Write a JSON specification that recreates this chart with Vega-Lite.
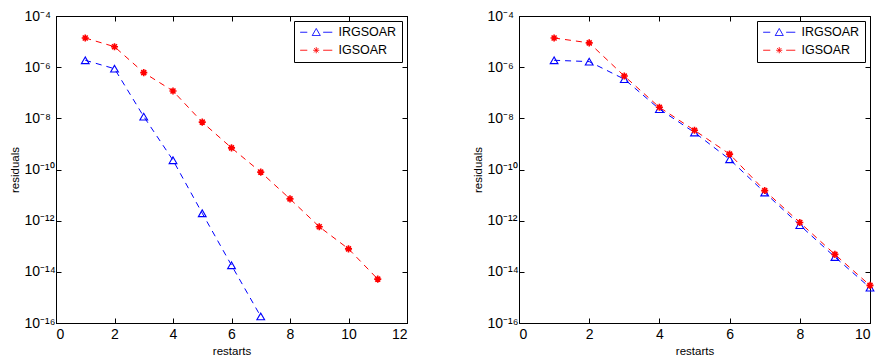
{
  "$schema": "https://vega.github.io/schema/vega-lite/v6.json",
  "padding": {"left": 8, "top": 8, "right": 0, "bottom": 0},
  "background": "white",
  "config": {
    "font": "Liberation Sans",
    "view": {"stroke": "black", "strokeWidth": 1},
    "axis": {"grid": false, "domainColor": "black", "tickColor": "black", "labelColor": "black", "titleColor": "black", "labelFont": "Liberation Sans", "titleFont": "Liberation Sans", "labelFontSize": 14, "titleFontSize": 11.5, "titleFontWeight": "normal", "tickSize": -5, "labelPadding": 9},
    "axisLeft": {"labelAlign": "left", "labelPadding": 37, "titlePadding": 4}
  },
  "datasets": {
    "left": [
      {"restarts": 1, "residual": 1.86e-6, "method": "IRGSOAR"},
      {"restarts": 2, "residual": 8.7e-7, "method": "IRGSOAR"},
      {"restarts": 3, "residual": 1.17e-8, "method": "IRGSOAR"},
      {"restarts": 4, "residual": 2.3e-10, "method": "IRGSOAR"},
      {"restarts": 5, "residual": 1.95e-12, "method": "IRGSOAR"},
      {"restarts": 6, "residual": 1.8e-14, "method": "IRGSOAR"},
      {"restarts": 7, "residual": 1.8e-16, "method": "IRGSOAR"},
      {"restarts": 1, "residual": 1.38e-5, "method": "IGSOAR"},
      {"restarts": 2, "residual": 6.3e-6, "method": "IGSOAR"},
      {"restarts": 3, "residual": 6.1e-7, "method": "IGSOAR"},
      {"restarts": 4, "residual": 1.17e-7, "method": "IGSOAR"},
      {"restarts": 5, "residual": 7.1e-9, "method": "IGSOAR"},
      {"restarts": 6, "residual": 7.0e-10, "method": "IGSOAR"},
      {"restarts": 7, "residual": 7.9e-11, "method": "IGSOAR"},
      {"restarts": 8, "residual": 7.1e-12, "method": "IGSOAR"},
      {"restarts": 9, "residual": 5.8e-13, "method": "IGSOAR"},
      {"restarts": 10, "residual": 7.9e-14, "method": "IGSOAR"},
      {"restarts": 11, "residual": 5.2e-15, "method": "IGSOAR"}
    ],
    "right": [
      {"restarts": 1, "residual": 1.86e-6, "method": "IRGSOAR"},
      {"restarts": 2, "residual": 1.65e-6, "method": "IRGSOAR"},
      {"restarts": 3, "residual": 3.4e-7, "method": "IRGSOAR"},
      {"restarts": 4, "residual": 2.3e-8, "method": "IRGSOAR"},
      {"restarts": 5, "residual": 2.8e-9, "method": "IRGSOAR"},
      {"restarts": 6, "residual": 2.5e-10, "method": "IRGSOAR"},
      {"restarts": 7, "residual": 1.26e-11, "method": "IRGSOAR"},
      {"restarts": 8, "residual": 6.7e-13, "method": "IRGSOAR"},
      {"restarts": 9, "residual": 3.8e-14, "method": "IRGSOAR"},
      {"restarts": 10, "residual": 2.4e-15, "method": "IRGSOAR"},
      {"restarts": 1, "residual": 1.38e-5, "method": "IGSOAR"},
      {"restarts": 2, "residual": 8.9e-6, "method": "IGSOAR"},
      {"restarts": 3, "residual": 4.5e-7, "method": "IGSOAR"},
      {"restarts": 4, "residual": 2.7e-8, "method": "IGSOAR"},
      {"restarts": 5, "residual": 3.4e-9, "method": "IGSOAR"},
      {"restarts": 6, "residual": 4.0e-10, "method": "IGSOAR"},
      {"restarts": 7, "residual": 1.5e-11, "method": "IGSOAR"},
      {"restarts": 8, "residual": 8.5e-13, "method": "IGSOAR"},
      {"restarts": 9, "residual": 4.8e-14, "method": "IGSOAR"},
      {"restarts": 10, "residual": 2.95e-15, "method": "IGSOAR"}
    ]
  },
  "bounds": "flush",
  "spacing": 112,
  "resolve": {"scale": {"color": "independent"}, "legend": {"color": "independent"}},
  "hconcat": [
    {
      "width": 351, "height": 307,
      "data": {"name": "left"},
      "resolve": {"axis": {"x": "independent", "y": "independent"}},
      "layer": [
        {
          "mark": {"type": "line", "strokeDash": [6, 5], "strokeWidth": 1},
          "encoding": {
            "x": {"field": "restarts", "type": "quantitative", "scale": {"domain": [0, 12], "nice": false}, "axis": {"values": [0, 2, 4, 6, 8, 10, 12], "title": "restarts", "orient": "bottom"}},
            "y": {"field": "residual", "type": "quantitative", "scale": {"type": "log", "domain": [1e-16, 1e-4], "nice": false}, "axis": {"values": [1e-16, 1e-14, 1e-12, 1e-10, 1e-8, 1e-6, 1e-4], "title": "residuals", "orient": "left", "labelExpr": "datum.value < 1e-15 ? '10⁻¹⁶' : datum.value < 1e-13 ? '10⁻¹⁴' : datum.value < 1e-11 ? '10⁻¹²' : datum.value < 1e-9 ? '10⁻¹⁰' : datum.value < 1e-7 ? '10⁻⁸' : datum.value < 1e-5 ? '10⁻⁶' : '10⁻⁴'"}},
            "color": {"field": "method", "type": "nominal", "scale": {"domain": ["IRGSOAR", "IGSOAR"], "range": ["#0000ff", "#ff0000"]},
              "legend": {"title": null, "orient": "top-right", "offset": 5, "padding": 5, "strokeColor": "black", "fillColor": "white", "labelFontSize": 12.5, "labelFont": "Liberation Sans", "labelColor": "black", "labelOffset": 27, "symbolSize": 100, "rowPadding": 5, "symbolStrokeWidth": 1,
                "encode": {"symbols": {"update": {"shape": {"signal": "datum.value === 'IRGSOAR' ? 'M-1,0L0.4,0M3.6,0L5.4,0M2.2,-0.75L3,0.65L1.4,0.65Z' : 'M-1,0L0.4,0M3.6,0L5.4,0M1.6,0L2.8,0M2.2,-0.6L2.2,0.6M1.78,-0.42L2.62,0.42M1.78,0.42L2.62,-0.42'"}, "stroke": {"signal": "datum.value === 'IRGSOAR' ? '#0000ff' : '#ff0000'"}, "fill": {"value": "transparent"}, "strokeDash": {"value": [1, 0]}, "opacity": {"value": 1}}}}}}
          }
        },
        {
          "transform": [{"filter": "datum.method === 'IRGSOAR'"}],
          "mark": {"type": "point", "shape": "triangle-up", "filled": false, "strokeWidth": 1.1, "size": 60, "opacity": 1, "color": "#0000ff"},
          "encoding": {
            "x": {"field": "restarts", "type": "quantitative", "axis": {"values": [0, 2, 4, 6, 8, 10, 12], "orient": "top", "labels": false, "title": null}},
            "y": {"field": "residual", "type": "quantitative", "axis": {"values": [1e-16, 1e-14, 1e-12, 1e-10, 1e-8, 1e-6, 1e-4], "orient": "right", "labels": false, "title": null}}
          }
        },
        {
          "transform": [{"filter": "datum.method === 'IGSOAR'"}],
          "mark": {"type": "point", "shape": "M-1,0L1,0M0,-1L0,1M-0.7,-0.7L0.7,0.7M-0.7,0.7L0.7,-0.7", "filled": false, "strokeWidth": 1.6, "size": 50, "opacity": 1, "color": "#ff0000"},
          "encoding": {
            "x": {"field": "restarts", "type": "quantitative", "axis": null},
            "y": {"field": "residual", "type": "quantitative", "axis": null}
          }
        }
      ]
    },
    {
      "width": 351, "height": 307,
      "data": {"name": "right"},
      "resolve": {"axis": {"x": "independent", "y": "independent"}},
      "layer": [
        {
          "mark": {"type": "line", "strokeDash": [6, 5], "strokeWidth": 1},
          "encoding": {
            "x": {"field": "restarts", "type": "quantitative", "scale": {"domain": [0, 10], "nice": false}, "axis": {"values": [0, 2, 4, 6, 8, 10], "title": "restarts", "orient": "bottom"}},
            "y": {"field": "residual", "type": "quantitative", "scale": {"type": "log", "domain": [1e-16, 1e-4], "nice": false}, "axis": {"values": [1e-16, 1e-14, 1e-12, 1e-10, 1e-8, 1e-6, 1e-4], "title": "residuals", "orient": "left", "labelExpr": "datum.value < 1e-15 ? '10⁻¹⁶' : datum.value < 1e-13 ? '10⁻¹⁴' : datum.value < 1e-11 ? '10⁻¹²' : datum.value < 1e-9 ? '10⁻¹⁰' : datum.value < 1e-7 ? '10⁻⁸' : datum.value < 1e-5 ? '10⁻⁶' : '10⁻⁴'"}},
            "color": {"field": "method", "type": "nominal", "scale": {"domain": ["IRGSOAR", "IGSOAR"], "range": ["#0000ff", "#ff0000"]},
              "legend": {"title": null, "orient": "top-right", "offset": 5, "padding": 5, "strokeColor": "black", "fillColor": "white", "labelFontSize": 12.5, "labelFont": "Liberation Sans", "labelColor": "black", "labelOffset": 27, "symbolSize": 100, "rowPadding": 5, "symbolStrokeWidth": 1,
                "encode": {"symbols": {"update": {"shape": {"signal": "datum.value === 'IRGSOAR' ? 'M-1,0L0.4,0M3.6,0L5.4,0M2.2,-0.75L3,0.65L1.4,0.65Z' : 'M-1,0L0.4,0M3.6,0L5.4,0M1.6,0L2.8,0M2.2,-0.6L2.2,0.6M1.78,-0.42L2.62,0.42M1.78,0.42L2.62,-0.42'"}, "stroke": {"signal": "datum.value === 'IRGSOAR' ? '#0000ff' : '#ff0000'"}, "fill": {"value": "transparent"}, "strokeDash": {"value": [1, 0]}, "opacity": {"value": 1}}}}}}
          }
        },
        {
          "transform": [{"filter": "datum.method === 'IRGSOAR'"}],
          "mark": {"type": "point", "shape": "triangle-up", "filled": false, "strokeWidth": 1.1, "size": 60, "opacity": 1, "color": "#0000ff"},
          "encoding": {
            "x": {"field": "restarts", "type": "quantitative", "axis": {"values": [0, 2, 4, 6, 8, 10], "orient": "top", "labels": false, "title": null}},
            "y": {"field": "residual", "type": "quantitative", "axis": {"values": [1e-16, 1e-14, 1e-12, 1e-10, 1e-8, 1e-6, 1e-4], "orient": "right", "labels": false, "title": null}}
          }
        },
        {
          "transform": [{"filter": "datum.method === 'IGSOAR'"}],
          "mark": {"type": "point", "shape": "M-1,0L1,0M0,-1L0,1M-0.7,-0.7L0.7,0.7M-0.7,0.7L0.7,-0.7", "filled": false, "strokeWidth": 1.6, "size": 50, "opacity": 1, "color": "#ff0000"},
          "encoding": {
            "x": {"field": "restarts", "type": "quantitative", "axis": null},
            "y": {"field": "residual", "type": "quantitative", "axis": null}
          }
        }
      ]
    }
  ]
}
